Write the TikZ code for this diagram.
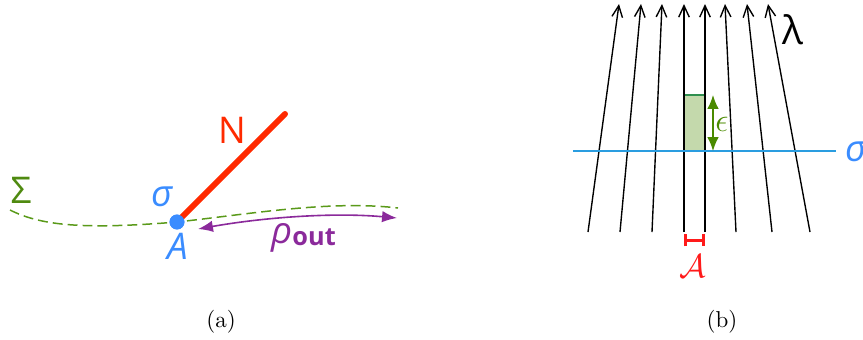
\documentclass[tikz,border=0pt]{standalone}
\usepackage{fontspec}
\newfontfamily\lblfont{Open Sans}
\usetikzlibrary{arrows.meta}
\definecolor{nred}{HTML}{FF2A00}
\definecolor{dotblue}{HTML}{3A8CFF}
\definecolor{sgreen}{HTML}{4F8A10}
\definecolor{dgreen}{HTML}{5A9A1A}
\definecolor{rpurple}{HTML}{8B2A9B}
\definecolor{lineblue}{HTML}{2A9DE0}
\definecolor{rectfill}{HTML}{C4D9AC}
\definecolor{rectedge}{HTML}{2F8F4F}
\definecolor{epsgreen}{HTML}{4A8A00}
\definecolor{calred}{HTML}{FF1A1A}
\tikzset{
  lbl/.style={font=\lblfont\fontsize{16}{19}\selectfont, inner sep=0pt},
  field/.style={line width=0.6pt, -{Straight Barb[length=5pt,width=4.6pt]}},
  captext/.style={font=\normalsize, inner sep=0pt}
}
\begin{document}
\begin{tikzpicture}[x=0.4348pt,y=-0.4348pt]
\useasboundingbox (0,0) rectangle (863,339);
% ---------------- panel (a)
\coordinate (s0) at (10,210);
\coordinate (s2) at (398,208);
\node[circle, fill=dotblue, inner sep=0pt, minimum size=6.5pt] (A) at (177,222) {};
\draw[dgreen, line width=0.65pt, dash pattern=on 4.3pt off 2.2pt]
  (s0) .. controls (40,225) and (80,230) .. (A.center)
       .. controls (250,214) and (330,200) .. (s2);
\coordinate (ntop) at (285,114);
\draw[nred, line width=2.6pt, line cap=round] (A.center) -- (ntop);
\fill[dotblue] (A) circle (3.25pt);
\node[lbl, text=nred] (Nlbl) at (232,130) {N};
\node[lbl, text=dotblue] (siglbl) at (162,197) {\itshape σ};
\node[lbl, text=dotblue] (Albl) at (178,246) {\itshape A};
\node[lbl, text=sgreen] (Siglbl) at (21,190) {Σ};
\coordinate (rl) at (198,229);
\coordinate (rr) at (397,218);
\draw[rpurple, line width=0.7pt, {Latex[length=6.5pt,width=5pt]}-{Latex[length=6.5pt,width=5pt]}]
  (rl) .. controls (260,218) and (330,212) .. (rr);
\node[lbl, text=rpurple, anchor=base west] (rho) at (271,243)
  {\itshape ρ\upshape\fontseries{sb}\bfseries\fontsize{11}{12}\selectfont\raisebox{-1pt}{out}};
\node[captext] (capa) at (221,322) {(a)};
% ---------------- panel (b)
\coordinate (b1) at (588,232); \coordinate (t1) at (619,4);
\coordinate (b2) at (620,232); \coordinate (t2) at (641,4);
\coordinate (b3) at (652,232); \coordinate (t3) at (662,4);
\coordinate (b4) at (684,232); \coordinate (t4) at (684,4);
\coordinate (b5) at (705,232); \coordinate (t5) at (705,4);
\coordinate (b6) at (736,232); \coordinate (t6) at (725,4);
\coordinate (b7) at (772,232); \coordinate (t7) at (747,4);
\coordinate (b8) at (810,232); \coordinate (t8) at (768,4);
\coordinate (rtl) at (684,95);
\coordinate (rbr) at (705,151);
\fill[rectfill] (rtl) rectangle (rbr);
\draw[rectedge, line width=0.8pt] (684,95) -- (705,95);
\foreach \i in {1,...,8} { \draw[field] (b\i) -- (t\i); }
\coordinate (hl) at (573,151);
\coordinate (hr) at (836,151);
\draw[lineblue, line width=0.65pt] (hl) -- (hr);
\node[lbl, text=dotblue, anchor=west] (sigb) at (845,152) {\itshape σ};
\node[lbl, font=\lblfont\fontsize{17}{19}\selectfont] (lam) at (793,30) {λ};
\coordinate (et) at (713,95);
\coordinate (eb) at (713,151);
\draw[epsgreen, line width=0.7pt, {Latex[length=6pt,width=5pt]}-{Latex[length=6pt,width=5pt]}] (et) -- (eb);
\node[inner sep=0pt, text=epsgreen, font=\Large] (eps) at (722,124) {$\epsilon$};
\coordinate (al) at (684,240);
\coordinate (ar) at (705,240);
\draw[calred, line width=1.3pt, {Bar[width=5.5pt]}-{Bar[width=5.5pt]}] (al) -- (ar);
\node[inner sep=0pt, text=calred, font=\Large, anchor=north] (calA) at (693,254) {$\mathcal{A}$};
\node[captext] (capb) at (722,322) {(b)};
\end{tikzpicture}
\end{document}
